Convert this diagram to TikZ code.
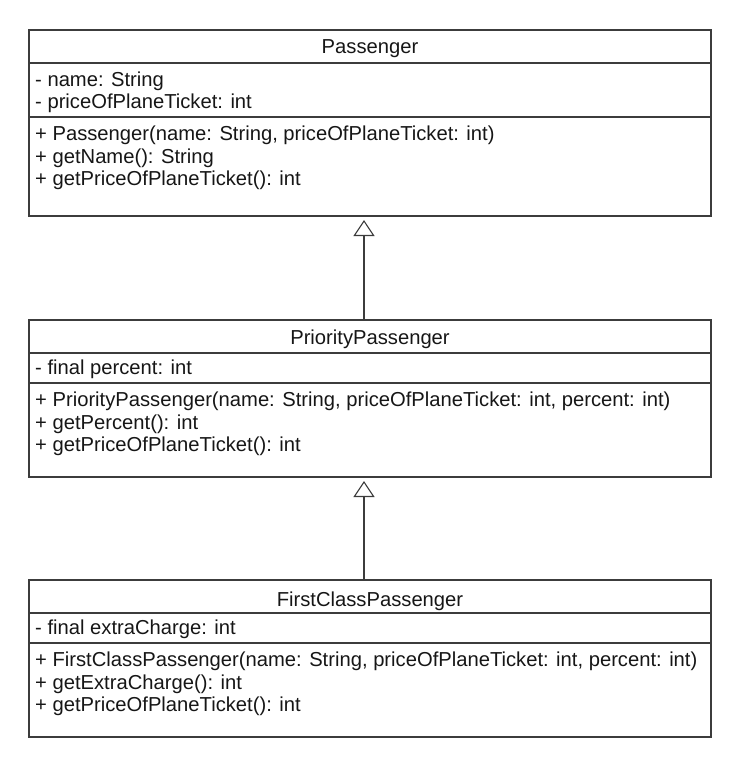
\documentclass[tikz,border=0pt]{standalone}
\usepackage{fontspec}
\setmainfont{Liberation Sans}
\usetikzlibrary{arrows.meta}
\definecolor{umlline}{HTML}{3C3C3C}
\definecolor{umltext}{HTML}{161616}
\begin{document}
\begin{tikzpicture}[x=1pt,y=-1pt,
  classbox/.style={draw=umlline, line width=1.1pt, inner sep=0pt, outer sep=0pt,
    minimum width=682pt, anchor=north west},
  sepline/.style={draw=umlline, line width=1.1pt},
  thicksep/.style={draw=umlline, line width=2pt},
  member/.style={anchor=base west, inner sep=0pt, text=umltext, font=\fontsize{20.2}{23}\selectfont},
  title/.style={anchor=base, inner sep=0pt, text=umltext, font=\fontsize{20.2}{23}\selectfont},
  inherit/.style={draw=umlline, line width=1.1pt,
    -{Triangle[open, length=16pt, width=21pt, line width=1.1pt]}, shorten >=4pt}]
\useasboundingbox (0,0) rectangle (739,768);

% Passenger
\node[classbox, minimum height=186pt] (p) at (29,30) {};
\draw[thicksep] (29,63) -- (711,63);
\draw[sepline] (29,117) -- (711,117);
\node[title] (pt) at (370,53.5) {Passenger};
\node[member] (pa1) at (35,86) {- name: String};
\node[member] (pa2) at (35,108.5) {- priceOfPlaneTicket: int};
\node[member] (pm1) at (35,140) {+ Passenger(name: String, priceOfPlaneTicket: int)};
\node[member] (pm2) at (35,163) {+ getName(): String};
\node[member] (pm3) at (35,185.5) {+ getPriceOfPlaneTicket(): int};

% PriorityPassenger
\node[classbox, minimum height=157pt] (pp) at (29,320) {};
\draw[thicksep] (29,353) -- (711,353);
\draw[sepline] (29,383) -- (711,383);
\node[title] (ppt) at (370,344) {PriorityPassenger};
\node[member] (ppa1) at (35,374.5) {- final percent: int};
\node[member] (ppm1) at (35,406) {+ PriorityPassenger(name: String, priceOfPlaneTicket: int, percent: int)};
\node[member] (ppm2) at (35,429) {+ getPercent(): int};
\node[member] (ppm3) at (35,451.5) {+ getPriceOfPlaneTicket(): int};

% FirstClassPassenger
\node[classbox, minimum height=157pt] (fc) at (29,580) {};
\draw[sepline] (29,613) -- (711,613);
\draw[thicksep] (29,643) -- (711,643);
\node[title] (fct) at (370,606) {FirstClassPassenger};
\node[member] (fca1) at (35,634.5) {- final extraCharge: int};
\node[member] (fcm1) at (35,666) {+ FirstClassPassenger(name: String, priceOfPlaneTicket: int, percent: int)};
\node[member] (fcm2) at (35,689) {+ getExtraCharge(): int};
\node[member] (fcm3) at (35,711.5) {+ getPriceOfPlaneTicket(): int};

% generalisation arrows
\draw[inherit] ([xshift=-6pt]pp.north) -- ([xshift=-6pt]p.south);
\draw[inherit] ([xshift=-6pt]fc.north) -- ([xshift=-6pt]pp.south);
\end{tikzpicture}
\end{document}
